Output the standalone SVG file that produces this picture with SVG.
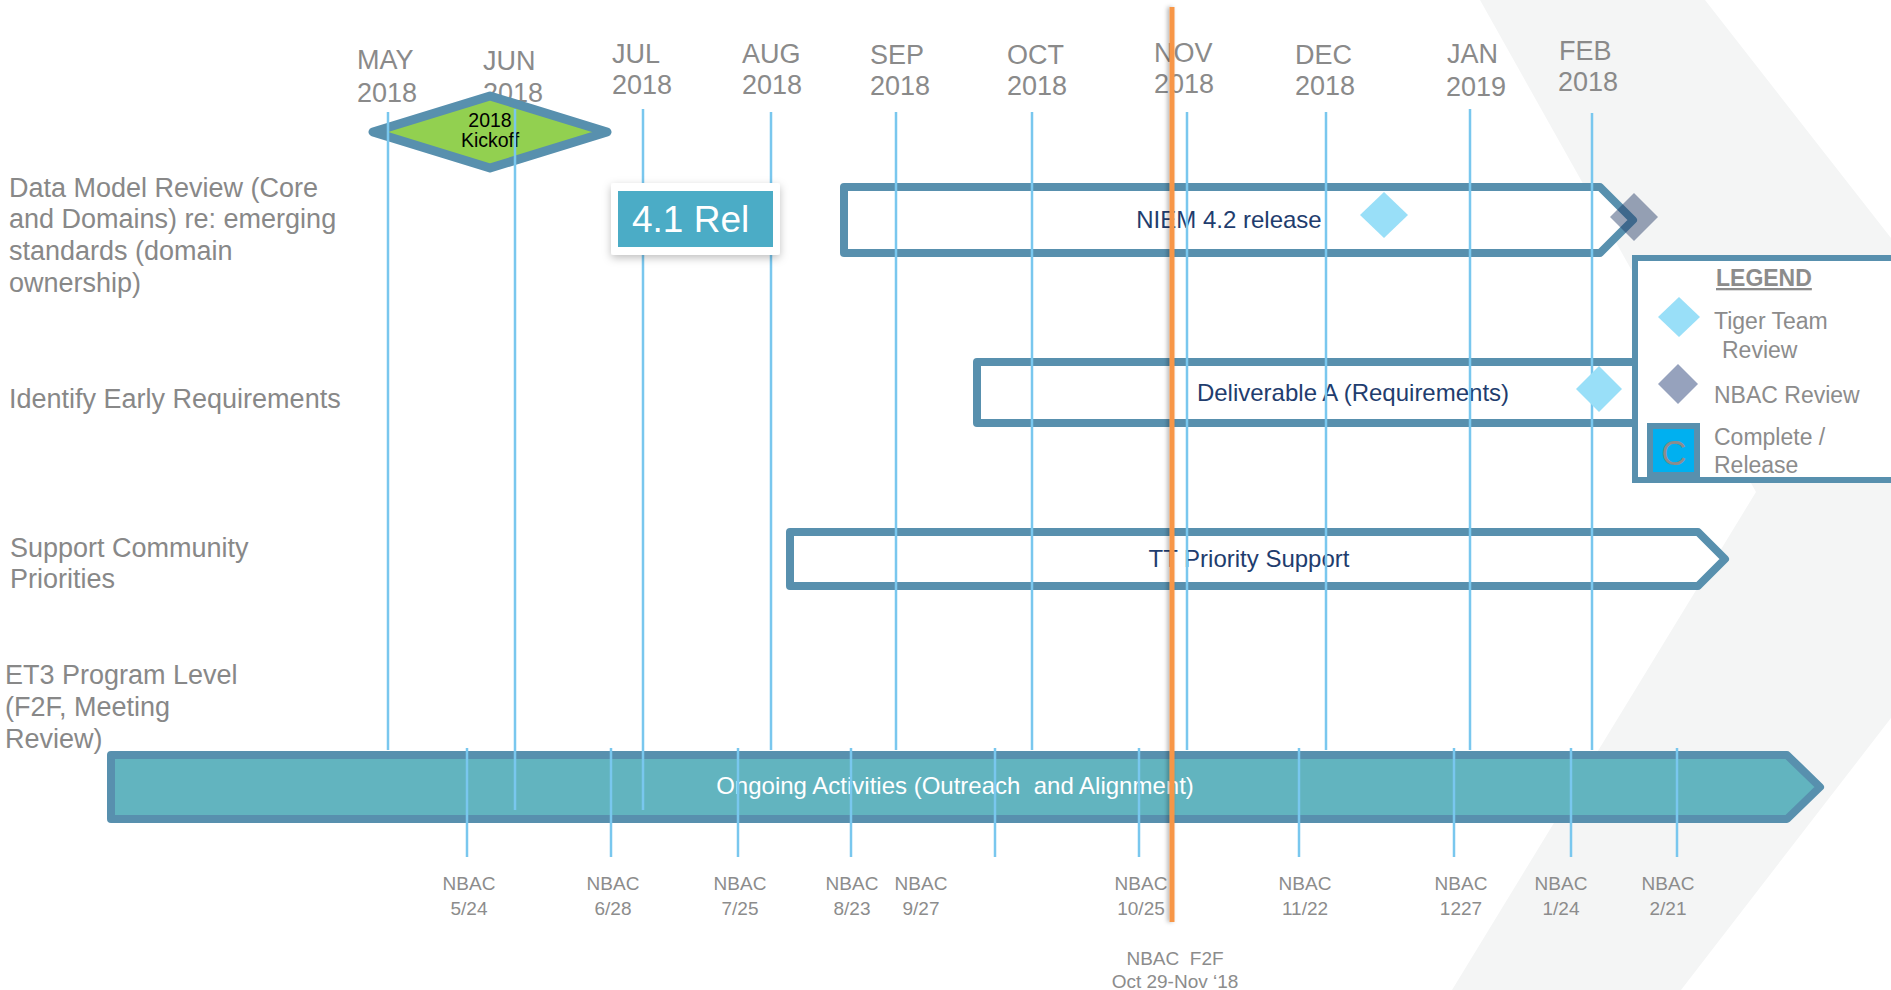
<svg xmlns="http://www.w3.org/2000/svg" width="1891" height="990" viewBox="0 0 1891 990">
<defs>
<style>
text{font-family:"Liberation Sans",Arial,sans-serif}
.mon{font-size:27px;fill:#8a8a8a}
.row{font-size:27px;fill:#888888}
.bar{fill:#ffffff;stroke:#5890ae;stroke-width:8;stroke-linejoin:round}
.bt{font-size:24px;fill:#1f3d6e;text-anchor:middle}
.vl{stroke:#79c7ee;stroke-width:2.5}
.nb{font-size:19px;fill:#8c8c8c;text-anchor:middle}
.lg{font-size:23px;fill:#8c8c8c}
.tt{fill:#99dff8}
</style>
<filter id="sh" x="-20%" y="-30%" width="140%" height="170%"><feDropShadow dx="0" dy="3" stdDeviation="4" flood-color="#000" flood-opacity="0.25"/></filter>
<filter id="osh" filterUnits="userSpaceOnUse" x="1150" y="0" width="40" height="940"><feDropShadow dx="-2" dy="0" stdDeviation="2" flood-color="#000" flood-opacity="0.3"/></filter>
</defs>
<rect width="1891" height="990" fill="#ffffff"/>
<polygon id="bg-chevron" points="1480,0 1705,0 1891,238 1891,718 1681,990 1452,990 1756,492" fill="#f4f5f5"/>

<g id="months" class="mon">
<text><tspan x="357" y="69">MAY</tspan><tspan x="357" y="102">2018</tspan></text>
<text><tspan x="483" y="70">JUN</tspan><tspan x="483" y="102">2018</tspan></text>
<text><tspan x="612" y="63">JUL</tspan><tspan x="612" y="94">2018</tspan></text>
<text><tspan x="742" y="63">AUG</tspan><tspan x="742" y="94">2018</tspan></text>
<text><tspan x="870" y="64">SEP</tspan><tspan x="870" y="95">2018</tspan></text>
<text><tspan x="1007" y="64">OCT</tspan><tspan x="1007" y="95">2018</tspan></text>
<text><tspan x="1154" y="62">NOV</tspan><tspan x="1154" y="93">2018</tspan></text>
<text><tspan x="1295" y="64">DEC</tspan><tspan x="1295" y="95">2018</tspan></text>
<text><tspan x="1447" y="63">JAN</tspan><tspan x="1446" y="96">2019</tspan></text>
<text><tspan x="1559" y="60">FEB</tspan><tspan x="1558" y="91">2018</tspan></text>
</g>

<g id="row-labels" class="row">
<text><tspan x="9" y="197">Data Model Review (Core</tspan><tspan x="9" y="228">and Domains) re: emerging</tspan><tspan x="9" y="260">standards (domain</tspan><tspan x="9" y="292">ownership)</tspan></text>
<text x="9" y="408">Identify Early Requirements</text>
<text><tspan x="10" y="557">Support Community</tspan><tspan x="10" y="588">Priorities</tspan></text>
<text><tspan x="5" y="684">ET3 Program Level</tspan><tspan x="5" y="716">(F2F, Meeting</tspan><tspan x="5" y="748">Review)</tspan></text>
</g>

<g id="kickoff">
<polygon points="373,132 490,96 607,132 490,168" fill="#92d050" stroke="#5890ae" stroke-width="9" stroke-linejoin="round"/>
<text x="490" y="127" font-size="19.5" fill="#000" text-anchor="middle">2018</text>
<text x="490" y="147" font-size="19.5" fill="#000" text-anchor="middle">Kickoff</text>
</g>

<g id="niem-bar">
<path class="bar" d="M844,187 H1600 L1633,220 L1600,253 H844 Z"/>
<text class="bt" x="1229" y="228">NIEM 4.2 release</text>
</g>
<g id="deliverable-bar">
<path class="bar" d="M977,362 H1700 V423 H977 Z"/>
<text class="bt" x="1353" y="401">Deliverable A (Requirements)</text>
</g>
<g id="tt-bar">
<path class="bar" d="M790,532 H1698 L1725,559 L1698,586 H790 Z"/>
<text class="bt" x="1249" y="567">TT Priority Support</text>
</g>
<g id="ongoing-bar">
<path class="bar" style="fill:#62b4bf" d="M111,755 H1787 L1820,787 L1787,819 H111 Z"/>
<text class="bt" style="fill:#ffffff;white-space:pre" x="955" y="794">Ongoing Activities (Outreach  and Alignment)</text>
</g>

<g id="connectors">
<g id="month-lines" class="vl">
<line x1="388" y1="112" x2="388" y2="750"/>
<line x1="515" y1="109" x2="515" y2="810"/>
<line x1="643" y1="109" x2="643" y2="810"/>
<line x1="771" y1="112" x2="771" y2="750"/>
<line x1="896" y1="112" x2="896" y2="750"/>
<line x1="1032" y1="112" x2="1032" y2="750"/>
<line x1="1187" y1="112" x2="1187" y2="750"/>
<line x1="1326" y1="112" x2="1326" y2="750"/>
<line x1="1470" y1="109" x2="1470" y2="750"/>
<line x1="1592" y1="113" x2="1592" y2="750"/>
</g>
<g id="nbac-ticks" class="vl">
<line x1="467" y1="748" x2="467" y2="857"/>
<line x1="611" y1="748" x2="611" y2="857"/>
<line x1="738" y1="748" x2="738" y2="857"/>
<line x1="851" y1="748" x2="851" y2="857"/>
<line x1="995" y1="748" x2="995" y2="857"/>
<line x1="1139" y1="748" x2="1139" y2="857"/>
<line x1="1299" y1="748" x2="1299" y2="857"/>
<line x1="1454" y1="748" x2="1454" y2="857"/>
<line x1="1571" y1="748" x2="1571" y2="857"/>
<line x1="1677" y1="748" x2="1677" y2="857"/>
</g>
</g>

<g id="milestones">
<polygon class="tt" points="1360,215 1384,192 1408,215 1384,238"/>
<polygon class="tt" points="1576,389 1599,366 1622,389 1599,412"/>
<polygon points="1610,217 1634,193 1658,217 1634,241" fill="#1f3864" fill-opacity="0.45"/>
</g>

<g id="rel-41">
<rect x="611" y="183" width="169" height="72" rx="3" fill="#ffffff" filter="url(#sh)"/>
<rect x="618" y="191" width="155" height="56" fill="#4bacc6"/>
<text x="632" y="232" font-size="37" fill="#ffffff">4.1 Rel</text>
</g>

<g id="legend">
<rect x="1635" y="258" width="300" height="222" fill="#ffffff" stroke="#5890ae" stroke-width="6"/>
<text x="1716" y="286" font-size="23" font-weight="bold" fill="#8c8c8c" text-decoration="underline">LEGEND</text>
<polygon class="tt" points="1658,317 1679,297 1700,317 1679,337"/>
<text class="lg"><tspan x="1714" y="329">Tiger Team</tspan><tspan x="1722" y="358">Review</tspan></text>
<polygon points="1658,384 1678,364 1698,384 1678,404" fill="#96a2bd"/>
<text class="lg" x="1714" y="403">NBAC Review</text>
<rect x="1650" y="426" width="47" height="49" fill="#00b0f0" stroke="#5890ae" stroke-width="6"/>
<text x="1674" y="465" font-size="35" fill="#8c8c8c" text-anchor="middle">C</text>
<text class="lg"><tspan x="1714" y="445">Complete /</tspan><tspan x="1714" y="473">Release</tspan></text>
</g>

<g id="nbac-labels" class="nb">
<text><tspan x="469" y="890">NBAC</tspan><tspan x="469" y="915">5/24</tspan></text>
<text><tspan x="613" y="890">NBAC</tspan><tspan x="613" y="915">6/28</tspan></text>
<text><tspan x="740" y="890">NBAC</tspan><tspan x="740" y="915">7/25</tspan></text>
<text><tspan x="852" y="890">NBAC</tspan><tspan x="852" y="915">8/23</tspan></text>
<text><tspan x="921" y="890">NBAC</tspan><tspan x="921" y="915">9/27</tspan></text>
<text><tspan x="1141" y="890">NBAC</tspan><tspan x="1141" y="915">10/25</tspan></text>
<text><tspan x="1305" y="890">NBAC</tspan><tspan x="1305" y="915">11/22</tspan></text>
<text><tspan x="1461" y="890">NBAC</tspan><tspan x="1461" y="915">1227</tspan></text>
<text><tspan x="1561" y="890">NBAC</tspan><tspan x="1561" y="915">1/24</tspan></text>
<text><tspan x="1668" y="890">NBAC</tspan><tspan x="1668" y="915">2/21</tspan></text>
<text style="white-space:pre"><tspan x="1175" y="965">NBAC  F2F</tspan><tspan x="1175" y="988">Oct 29-Nov ‘18</tspan></text>
</g>

<g id="today-line">
<rect x="1169.5" y="7" width="5" height="915" fill="#f79646" filter="url(#osh)"/>
</g>
</svg>
